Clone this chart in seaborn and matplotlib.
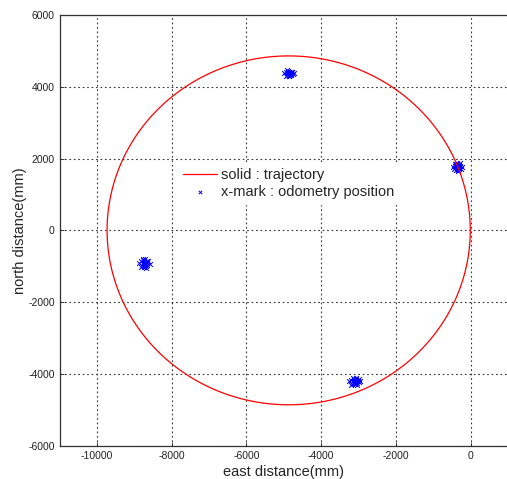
import numpy as np
import pandas as pd
import seaborn as sns
import matplotlib
matplotlib.use("Agg")
import matplotlib.pyplot as plt

# trajectory circle
center_x = -4870
center_y = 0
radius = 4860

# odometry x-marks, four clusters
top_x = [-4990, -4950, -4920, -4900, -4880, -4860, -4840, -4820, -4800, -4780, -4760, -4730,
         -4940, -4890, -4850, -4810, -4770, -4870, -4830, -4910]
top_y = [4380, 4420, 4340, 4400, 4450, 4310, 4380, 4420, 4330, 4400, 4360, 4380,
         4300, 4360, 4420, 4350, 4410, 4290, 4320, 4460]
right_x = [-470, -440, -420, -400, -380, -360, -340, -320, -300, -280, -260, -240,
           -430, -390, -350, -310, -370, -330, -410, -290]
right_y = [1770, 1700, 1840, 1760, 1690, 1880, 1770, 1720, 1830, 1780, 1700, 1760,
           1800, 1860, 1650, 1740, 1820, 1680, 1780, 1870]
left_x = [-8870, -8830, -8800, -8780, -8760, -8740, -8720, -8700, -8680, -8660, -8630, -8590,
          -8810, -8770, -8730, -8690, -8650, -8750, -8710, -8670]
left_y = [-920, -860, -980, -900, -820, -1010, -930, -870, -980, -900, -850, -930,
          -1030, -800, -960, -1040, -960, -880, -790, -840]
bottom_x = [-3250, -3210, -3180, -3150, -3120, -3100, -3080, -3060, -3040, -3010, -2980, -2950,
            -3190, -3140, -3090, -3050, -3000, -3130, -3070, -3110]
bottom_y = [-4210, -4160, -4270, -4200, -4130, -4290, -4210, -4150, -4260, -4190, -4230, -4200,
            -4300, -4120, -4240, -4300, -4150, -4250, -4100, -4180]

x_ticks = [-10000, -8000, -6000, -4000, -2000, 0]
y_ticks = [-6000, -4000, -2000, 0, 2000, 4000, 6000]

theta = np.linspace(0, 2 * np.pi, 400)
circle_df = pd.DataFrame({"x": center_x + radius * np.cos(theta),
                          "y": center_y + radius * np.sin(theta)})
odo_df = pd.DataFrame({"x": top_x + right_x + left_x + bottom_x,
                       "y": top_y + right_y + left_y + bottom_y})

sns.set_style("white")
plt.rcParams["font.family"] = ["Liberation Sans", "DejaVu Sans"]
plt.rcParams["axes.unicode_minus"] = False

fig = plt.figure(figsize=(5.07, 4.79), dpi=100)
ax = fig.add_axes([0.1176, 0.0695, 0.8844, 0.8992])

sns.lineplot(data=circle_df, x="x", y="y", sort=False, estimator=None,
             color="#ff0000", linewidth=0.9, ax=ax, label="solid : trajectory")
sns.scatterplot(data=odo_df, x="x", y="y", marker="x", color="#0000ff",
                s=12, linewidth=0.7, ax=ax, label="x-mark : odometry position")

ax.set_xlim(-11000, 1000)
ax.set_ylim(-6000, 6000)
ax.set_xticks(x_ticks)
ax.set_yticks(y_ticks)
ax.tick_params(labelsize=7.5, direction="in", length=3, width=0.6, colors="#222222",
               bottom=True, left=True)
ax.grid(True, linestyle=(0, (1.5, 2.5)), color="#333333", linewidth=0.8)
ax.set_axisbelow(True)
for sp in ax.spines.values():
    sp.set_color("#333333")
    sp.set_linewidth(0.9)

ax.set_xlabel("east distance(mm)", fontsize=10.5, labelpad=3)
ax.set_ylabel("north distance(mm)", fontsize=10.5, labelpad=1)

leg = ax.legend(loc="upper left", bbox_to_anchor=(179 / 507, 1 - 164 / 479),
                bbox_transform=fig.transFigure, fontsize=10.5, frameon=True,
                handlelength=2.3, handletextpad=0.25, labelspacing=0.2,
                borderpad=0.3, borderaxespad=0, markerscale=0.7)
leg.get_frame().set_edgecolor("white")
leg.get_frame().set_facecolor("white")
leg.get_frame().set_alpha(1.0)

fig.savefig("out.png", dpi=100, facecolor="white")
